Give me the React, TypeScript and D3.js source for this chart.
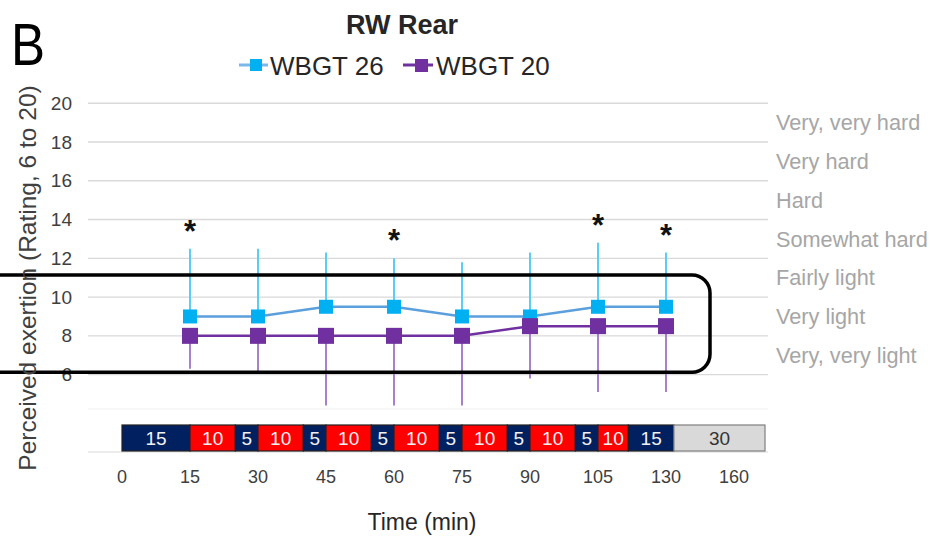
import React from 'react';
import * as d3 from 'd3';

// time points on the category axis (min)
const timeLabels = ['0', '15', '30', '45', '60', '75', '90', '105', '130', '160'];
const measuredTimes = ['15', '30', '45', '60', '75', '90', '105', '130'];

// perceived exertion, means and the one-sided error bar ends
const wbgt26Mean = [9, 9, 9.5, 9.5, 9, 9, 9.5, 9.5];
const wbgt26Upper = [12.5, 12.5, 12.3, 12.0, 11.8, 12.3, 12.8, 12.3];
const wbgt20Mean = [8, 8, 8, 8, 8, 8.5, 8.5, 8.5];
const wbgt20Lower = [6.3, 6.1, 4.4, 4.4, 4.4, 5.8, 5.1, 5.1];
const significantTimes = ['15', '60', '105', '130'];

const yTicks = [6, 8, 10, 12, 14, 16, 18, 20];
const borgLabels = ['Very, very hard', 'Very hard', 'Hard', 'Somewhat hard', 'Fairly light', 'Very light', 'Very, very light'];
const borgLevels = [19, 17, 15, 13, 11, 9, 7];

// protocol timeline under the chart
const phaseMinutes = [15, 10, 5, 10, 5, 10, 5, 10, 5, 10, 5, 10, 5, 10, 15, 30];
const phaseKinds = ['work', 'rest', 'work', 'rest', 'work', 'rest', 'work', 'rest', 'work', 'rest', 'work', 'rest', 'work', 'rest', 'work', 'recovery'];
const barAnchorMinutes = [0, 15, 30, 45, 60, 75, 90, 105, 160];

const FONT = "'Liberation Sans', Arial, sans-serif";
const W = 935;
const H = 541;

const phaseFill: Record<string, string> = { work: '#002060', rest: '#ff0000', recovery: '#d9d9d9' };
const phaseText: Record<string, string> = { work: '#f2f2f2', rest: '#f2f2f2', recovery: '#333333' };

export default function App() {
  const plotLeft = 88;
  const plotRight = 768;

  const x = d3.scaleBand().domain(timeLabels).range([plotLeft, plotRight]);
  const cx = (t: string) => (x(t) as number) + x.bandwidth() / 2;
  const y = d3.scaleLinear().domain([6, 20]).range([374.6, 103.3]);

  // minutes -> pixels for the protocol bar (piecewise, follows the tick spacing)
  const barX = d3
    .scaleLinear()
    .domain(barAnchorMinutes)
    .range(barAnchorMinutes.map((m, i) => (i < barAnchorMinutes.length - 1 ? cx(String(m)) : plotRight - 3)));

  const starts = d3.cumsum([0, ...phaseMinutes]);
  const phases = phaseMinutes.map((m, i) => ({ m, kind: phaseKinds[i], x0: barX(starts[i]), x1: barX(starts[i + 1]) }));

  const line = d3
    .line<number>()
    .x((_, i) => cx(measuredTimes[i]))
    .y((d) => y(d));

  const barTop = 425;
  const barH = 26;

  return (
    <svg width={W} height={H} style={{ position: 'absolute', left: 0, top: 0, background: '#fff' }} fontFamily={FONT}>
      {/* faint panel leftovers */}
      <line x1={plotLeft} x2={plotRight} y1={409} y2={409} stroke="#f0f0f0" strokeWidth={1} />
      <line x1={plotLeft} x2={plotRight} y1={452} y2={452} stroke="#d9d9d9" strokeWidth={1.2} />

      {/* gridlines */}
      {yTicks.map((t) => (
        <line key={t} x1={plotLeft} x2={plotRight} y1={y(t)} y2={y(t)} stroke="#d9d9d9" strokeWidth={1.4} />
      ))}
      {yTicks.map((t) => (
        <text key={t} x={72} y={y(t)} dy="0.35em" textAnchor="end" fontSize={19} fill="#404040">
          {t}
        </text>
      ))}

      {/* Borg descriptors */}
      {borgLabels.map((l, i) => (
        <text key={l} x={776} y={y(borgLevels[i])} dy="0.35em" fontSize={21.7} fill="#a6a6a6">
          {l}
        </text>
      ))}

      {/* error bars */}
      {measuredTimes.map((t, i) => (
        <line key={'e26' + t} x1={cx(t)} x2={cx(t)} y1={y(wbgt26Mean[i])} y2={y(wbgt26Upper[i])} stroke="#5ccdf5" strokeWidth={2} />
      ))}
      {measuredTimes.map((t, i) => (
        <line key={'e20' + t} x1={cx(t)} x2={cx(t)} y1={y(wbgt20Mean[i])} y2={y(wbgt20Lower[i])} stroke="#a880cc" strokeWidth={2} />
      ))}

      {/* series lines */}
      <path d={line(wbgt26Mean) as string} fill="none" stroke="#5b9fdc" strokeWidth={2.5} />
      {measuredTimes.map((t, i) => (
        <rect key={'m26' + t} x={cx(t) - 7} y={y(wbgt26Mean[i]) - 7} width={14} height={14} fill="#00b0f0" />
      ))}
      <path d={line(wbgt20Mean) as string} fill="none" stroke="#7030a0" strokeWidth={2.5} />
      {measuredTimes.map((t, i) => (
        <rect key={'m20' + t} x={cx(t) - 8} y={y(wbgt20Mean[i]) - 8} width={16} height={16} fill="#7030a0" />
      ))}

      {/* significance */}
      {significantTimes.map((t) => {
        const i = measuredTimes.indexOf(t);
        return (
          <text key={'s' + t} x={cx(t)} y={y(wbgt26Upper[i]) - 7} textAnchor="middle" fontSize={31} fontWeight="bold" fill="#111">
            *
          </text>
        );
      })}

      {/* highlight box */}
      <rect x={-20} y={275} width={730} height={97.3} rx={18} fill="none" stroke="#000" strokeWidth={3.5} />

      {/* protocol bar */}
      {phases.map((p, i) => (
        <g key={'p' + i}>
          <rect
            x={p.x0}
            y={barTop}
            width={p.x1 - p.x0}
            height={barH}
            fill={phaseFill[p.kind]}
            stroke={p.kind === 'recovery' ? '#7f7f7f' : '#222'}
            strokeWidth={1.2}
          />
          <text x={(p.x0 + p.x1) / 2} y={barTop + barH / 2} dy="0.36em" textAnchor="middle" fontSize={19} fill={phaseText[p.kind]}>
            {p.m}
          </text>
        </g>
      ))}

      {/* x tick labels */}
      {timeLabels.map((t) => (
        <text key={'x' + t} x={cx(t)} y={477} dy="0.35em" textAnchor="middle" fontSize={18} fill="#404040">
          {t}
        </text>
      ))}

      <text x={422} y={530} textAnchor="middle" fontSize={23} fill="#262626">
        Time (min)
      </text>
      <text transform="translate(27,278) rotate(-90)" dy="0.35em" textAnchor="middle" fontSize={24.5} fill="#404040">
        Perceived exertion (Rating, 6 to 20)
      </text>

      {/* title, panel letter, legend */}
      <text x={402} y={34} textAnchor="middle" fontSize={27} fontWeight="bold" fill="#262626">
        RW Rear
      </text>
      <text transform="translate(11,65) scale(0.85,1)" fontSize={60} fill="#000">
        B
      </text>

      <line x1={239} x2={268} y1={65} y2={65} stroke="#7ab8e8" strokeWidth={3} />
      <rect x={250} y={59} width={12} height={12} fill="#00b0f0" />
      <text x={270} y={75} fontSize={26} fill="#262626">
        WBGT 26
      </text>
      <line x1={403} x2={433} y1={65} y2={65} stroke="#7030a0" strokeWidth={3} />
      <rect x={415} y={59} width={13} height={13} fill="#7030a0" />
      <text x={436} y={75} fontSize={26} fill="#262626">
        WBGT 20
      </text>
    </svg>
  );
}
